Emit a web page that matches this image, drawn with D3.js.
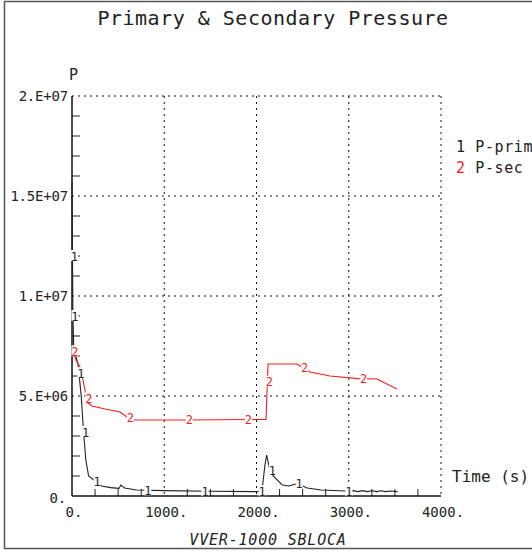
<!DOCTYPE html>
<html>
<head>
<meta charset="utf-8">
<script src="https://cdn.jsdelivr.net/npm/d3@7"></script>
<style>
  body { margin: 0; background: #fff; }
  text { font-family: "DejaVu Sans Mono", monospace; fill: #222; }
</style>
</head>
<body>
<div id="chart"></div>
<script>
// Chart params
var svgWidth = 532;
var svgHeight = 552;

var margin = { top: 96, right: 91, bottom: 56, left: 72 };
var width = svgWidth - margin.left - margin.right;
var height = svgHeight - margin.top - margin.bottom;

// Data (time in s, pressure in Pa)
var primTime = [0, 5, 10, 20, 40, 65, 100, 125, 150, 180, 250, 320, 420, 510, 530, 570, 700, 1000, 1500, 2000, 2060, 2090, 2110, 2140, 2180, 2280, 2350, 2440, 2550, 2700, 2900, 3000, 3050, 3100, 3150, 3200, 3250, 3300, 3350, 3400, 3450, 3530];
var primP = [15.7e6, 12e6, 9e6, 7.2e6, 7.0e6, 6.6e6, 5.0e6, 3.2e6, 1.8e6, 1.0e6, 0.75e6, 0.5e6, 0.42e6, 0.38e6, 0.55e6, 0.4e6, 0.3e6, 0.27e6, 0.24e6, 0.22e6, 0.25e6, 1.5e6, 2.05e6, 1.4e6, 1.0e6, 0.55e6, 0.5e6, 0.62e6, 0.4e6, 0.3e6, 0.26e6, 0.24e6, 0.27e6, 0.22e6, 0.27e6, 0.22e6, 0.26e6, 0.22e6, 0.26e6, 0.22e6, 0.25e6, 0.22e6];

var secTime = [5, 43, 87, 119, 152, 173, 217, 358, 520, 596, 661, 1200, 2103, 2125, 2439, 2580, 2797, 3100, 3306, 3523];
var secP = [7.3e6, 6.8e6, 6.45e6, 5.8e6, 5.05e6, 4.65e6, 4.5e6, 4.35e6, 4.2e6, 3.95e6, 3.8e6, 3.8e6, 3.83e6, 6.6e6, 6.6e6, 6.2e6, 6.0e6, 5.87e6, 5.85e6, 5.35e6];

// curve marker positions (time)
var primMarks = [5, 10, 75, 125, 250, 800, 1420, 2040, 2150, 2440, 2980];
var secMarks = [10, 160, 610, 1250, 1890, 2118, 2500, 3140];

var xTicks = [0, 1000, 2000, 3000, 4000];
var xTickLabels = ["0.", "1000.", "2000.", "3000.", "4000."];
var yTicks = [0, 5e6, 1e7, 1.5e7, 2e7];
var yTickLabels = ["0.", "5.E+06", "1.E+07", "1.5E+07", "2.E+07"];

var seriesNames = ["P-prim", "P-sec"];
var seriesColors = ["#222", "#ff1a1a"];

var svg = d3.select("#chart")
  .append("svg")
  .attr("width", svgWidth)
  .attr("height", svgHeight);

// outer frame
svg.append("rect")
  .attr("x", 4.5).attr("y", 1.5)
  .attr("width", 600).attr("height", 547)
  .attr("fill", "none")
  .attr("stroke", "#555")
  .attr("stroke-width", 1.5);

var chartGroup = svg.append("g")
  .attr("transform", `translate(${margin.left}, ${margin.top})`);

var x = d3.scaleLinear().domain([0, 4000]).range([0, width]);
var y = d3.scaleLinear().domain([0, 2e7]).range([height, 0]);

// dotted grid
chartGroup.selectAll(".vgrid")
  .data(xTicks.slice(1))
  .enter().append("line")
  .attr("x1", d => x(d)).attr("x2", d => x(d))
  .attr("y1", 0).attr("y2", height)
  .attr("stroke", "#111").attr("stroke-dasharray", "2,4");

chartGroup.selectAll(".hgrid")
  .data(yTicks.slice(1))
  .enter().append("line")
  .attr("x1", 0).attr("x2", width)
  .attr("y1", d => y(d)).attr("y2", d => y(d))
  .attr("stroke", "#111").attr("stroke-dasharray", "2,4");

// minor ticks
chartGroup.selectAll(".xminor")
  .data(d3.range(250, 4000, 250).filter(d => d % 1000 != 0))
  .enter().append("line")
  .attr("x1", d => x(d)).attr("x2", d => x(d))
  .attr("y1", height).attr("y2", height - 7)
  .attr("stroke", "#222");

chartGroup.selectAll(".yminor")
  .data(d3.range(1e6, 2e7, 1e6).filter(d => d % 5e6 != 0))
  .enter().append("line")
  .attr("x1", 0).attr("x2", 8)
  .attr("y1", d => y(d)).attr("y2", d => y(d))
  .attr("stroke", "#222");

// axes lines
chartGroup.append("line")
  .attr("x1", 0).attr("x2", 0).attr("y1", 0).attr("y2", height)
  .attr("stroke", "#111").attr("stroke-width", 1.5);
chartGroup.append("line")
  .attr("x1", 0).attr("x2", width).attr("y1", height).attr("y2", height)
  .attr("stroke", "#111").attr("stroke-width", 1.5);

// tick labels
chartGroup.selectAll(".xlab")
  .data(xTicks)
  .enter().append("text")
  .attr("x", d => x(d) + 2)
  .attr("y", height + 21)
  .attr("text-anchor", "middle")
  .style("font-size", "14px")
  .text((d, i) => xTickLabels[i]);

chartGroup.selectAll(".ylab")
  .data(yTicks)
  .enter().append("text")
  .attr("x", (d, i) => i == 0 ? -6 : -4)
  .attr("y", (d, i) => i == 0 ? y(d) + 7 : y(d) + 5)
  .attr("text-anchor", "end")
  .style("font-size", "14px")
  .style("letter-spacing", "-0.2px")
  .text((d, i) => yTickLabels[i]);

// curves
var line = d3.line()
  .x(d => x(d[0]))
  .y(d => y(d[1]));

var series = [
  d3.zip(primTime, primP),
  d3.zip(secTime, secP)
];
var marks = [primMarks, secMarks];

series.forEach(function(data, s) {
  chartGroup.append("path")
    .datum(data)
    .attr("d", line)
    .attr("fill", "none")
    .attr("stroke", seriesColors[s])
    .attr("stroke-width", 1.1);
});

function valueAt(data, t) {
  for (var i = 1; i < data.length; i++) {
    if (t <= data[i][0]) {
      var a = data[i - 1], b = data[i];
      return a[1] + (b[1] - a[1]) * (t - a[0]) / (b[0] - a[0]);
    }
  }
  return data[data.length - 1][1];
}

series.forEach(function(data, s) {
  var g = chartGroup.selectAll(".mk" + s)
    .data(marks[s])
    .enter().append("g")
    .attr("transform", d => `translate(${x(d) + 2}, ${y(valueAt(data, d))})`);
  g.append("rect")
    .attr("x", -3.5).attr("y", -6)
    .attr("width", 7).attr("height", 11)
    .attr("fill", "#fff");
  g.append("text")
    .attr("text-anchor", "middle")
    .attr("y", 4.5)
    .style("font-size", "12px")
    .style("fill", seriesColors[s])
    .text(s + 1);
});

// title and axis names
svg.append("text")
  .attr("x", 273).attr("y", 25)
  .attr("text-anchor", "middle")
  .style("font-size", "20px")
  .style("letter-spacing", "0.5px")
  .text("Primary & Secondary Pressure");

svg.append("text")
  .attr("x", 69).attr("y", 80)
  .style("font-size", "15px")
  .text("P");

svg.append("text")
  .attr("x", 452).attr("y", 482)
  .style("font-size", "16px")
  .text("Time (s)");

svg.append("text")
  .attr("x", 268).attr("y", 545)
  .attr("text-anchor", "middle")
  .style("font-size", "15px")
  .style("font-style", "italic")
  .style("letter-spacing", "0.8px")
  .text("VVER-1000  SBLOCA");

// legend
seriesNames.forEach(function(name, i) {
  var t = svg.append("text")
    .attr("x", 456).attr("y", 152 + i * 21)
    .style("font-size", "15px")
    .style("letter-spacing", "0.6px");
  t.append("tspan").style("fill", seriesColors[i]).text((i + 1) + " ");
  t.append("tspan").text(name);
});
</script>
</body>
</html>
